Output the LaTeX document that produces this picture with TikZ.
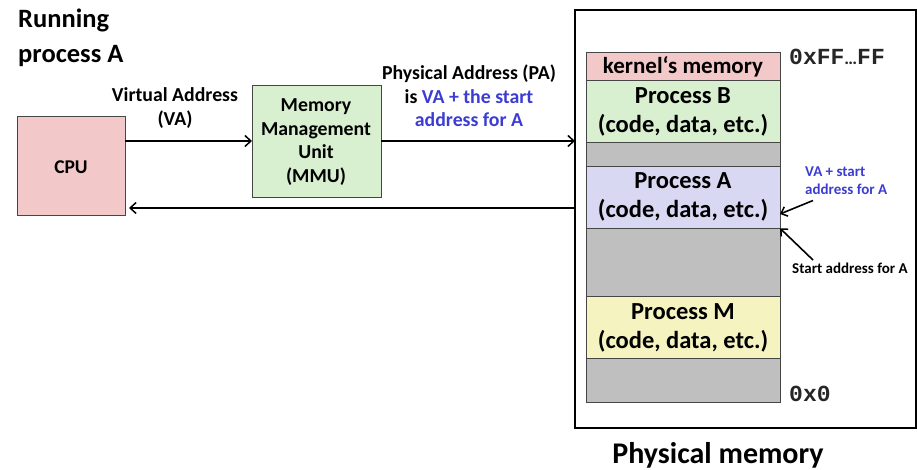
\documentclass[tikz,border=0pt]{standalone}
\usepackage{fontspec}
\setmainfont{Carlito}
\setmonofont{Liberation Mono}
\usetikzlibrary{arrows.meta}

\definecolor{cpupink}{RGB}{242,200,200}
\definecolor{mmugreen}{RGB}{216,240,208}
\definecolor{procblue}{RGB}{216,216,242}
\definecolor{procyellow}{RGB}{245,243,192}
\definecolor{freegray}{RGB}{191,191,191}
\definecolor{addrblue}{RGB}{60,60,210}
\definecolor{edgegray}{RGB}{70,70,70}

\begin{document}
\begin{tikzpicture}[x=1pt,y=-1pt,
  unitbox/.style={draw=edgegray, line width=1pt, inner sep=0pt, outer sep=0pt, anchor=north west},
  seg/.style={draw=edgegray, line width=0.8pt, minimum width=194pt, inner sep=0pt, outer sep=0pt,
    anchor=north west, align=center, font=\bfseries\fontsize{24.5}{29}\selectfont},
  lbl/.style={inner sep=0pt, align=center, font=\bfseries\fontsize{19.8}{23.5}\selectfont},
  note/.style={inner sep=0pt, align=left, font=\bfseries\fontsize{15}{18.3}\selectfont},
  addr/.style={inner sep=0pt, anchor=west, text=black!85, font=\ttfamily\bfseries\fontsize{23}{26}\selectfont},
  conn/.style={-{Straight Barb[length=6pt,width=11pt,line width=1.5pt]}, line width=1.6pt},
  pointer/.style={-{Straight Barb[length=5.5pt,width=10pt,line width=1.5pt]}, line width=1.6pt}
]
\useasboundingbox (0,0) rectangle (917,470);

% title
\node[inner sep=0pt, anchor=west, align=left, font=\bfseries\fontsize{26.5}{35}\selectfont]
  (title) at (18,38) {Running\\process A};

% CPU and MMU
\node[unitbox, fill=cpupink, minimum width=108pt, minimum height=99pt] (cpu) at (17,117) {};
\node[lbl, font=\bfseries\fontsize{19.5}{23}\selectfont] (cputxt) at (71,167) {CPU};
\node[unitbox, fill=mmugreen, minimum width=129pt, minimum height=112pt] (mmu) at (252,86) {};
\node[lbl, font=\bfseries\fontsize{19.8}{23.8}\selectfont] (mmutxt) at (316,142)
  {Memory\\Management\\Unit\\(MMU)};

% physical memory frame
\node[draw=black, line width=1.8pt, inner sep=0pt, outer sep=0pt, anchor=north west,
  minimum width=341pt, minimum height=418pt] (pm) at (575,10) {};
\node[inner sep=0pt, font=\bfseries\fontsize{30}{36}\selectfont] (pmtxt) at (718,455) {Physical memory};

% memory layout, top to bottom
\node[seg, fill=cpupink, minimum height=28pt, font=\bfseries\fontsize{23}{27}\selectfont] (kern) at (586,52.7) {kernel‘s memory};
\node[seg, fill=mmugreen, minimum height=62pt] (procB) at (586,80.7) {Process B\\(code, data, etc.)};
\node[seg, fill=freegray, minimum height=23.3pt] (gapA) at (586,142.7) {};
\node[seg, fill=procblue, minimum height=62.3pt] (procA) at (586,166) {Process A\\(code, data, etc.)};
\node[seg, fill=freegray, minimum height=68.4pt] (gapB) at (586,228.3) {};
\node[seg, fill=procyellow, minimum height=61.6pt] (procM) at (586,296.7) {Process M\\(code, data, etc.)};
\node[seg, fill=freegray, minimum height=44.4pt] (gapC) at (586,358.3) {};

% address marks
\node[addr] (top) at (789,57) {0xFF\rmfamily\bfseries\fontsize{18}{20}\selectfont…\ttfamily\bfseries\fontsize{23}{26}\selectfont FF};
\node[addr] (bottom) at (789,394) {0x0};

% address translation labels
\node[lbl] (valbl) at (175,108) {Virtual Address\\(VA)};
\node[lbl] (palbl) at (469,96) {Physical Address (PA)\\is \textcolor{addrblue}{VA + the start}\\\textcolor{addrblue}{address for A}};
\node[note, text=addrblue, anchor=west] (vanote) at (805,181) {VA + start\\address for A};
\node[note, anchor=west] (startnote) at (792,268) {Start address for A};

% connectors
\draw[conn] (cpu.east |- 0,141) -- (mmu.west |- 0,141);
\draw[conn] (mmu.east |- 0,141) -- (pm.west |- 0,141);
\draw[conn, shorten >=4pt] (pm.west |- 0,208) -- (cpu.east |- 0,208);

% pointers into process A
\coordinate (vatail) at (813,200.5);
\coordinate (sttail) at (813,260);
\draw[pointer] (vatail) -- (procA.east |- 0,214);
\draw[pointer] (sttail) -- (procA.south east);
\end{tikzpicture}
\end{document}
